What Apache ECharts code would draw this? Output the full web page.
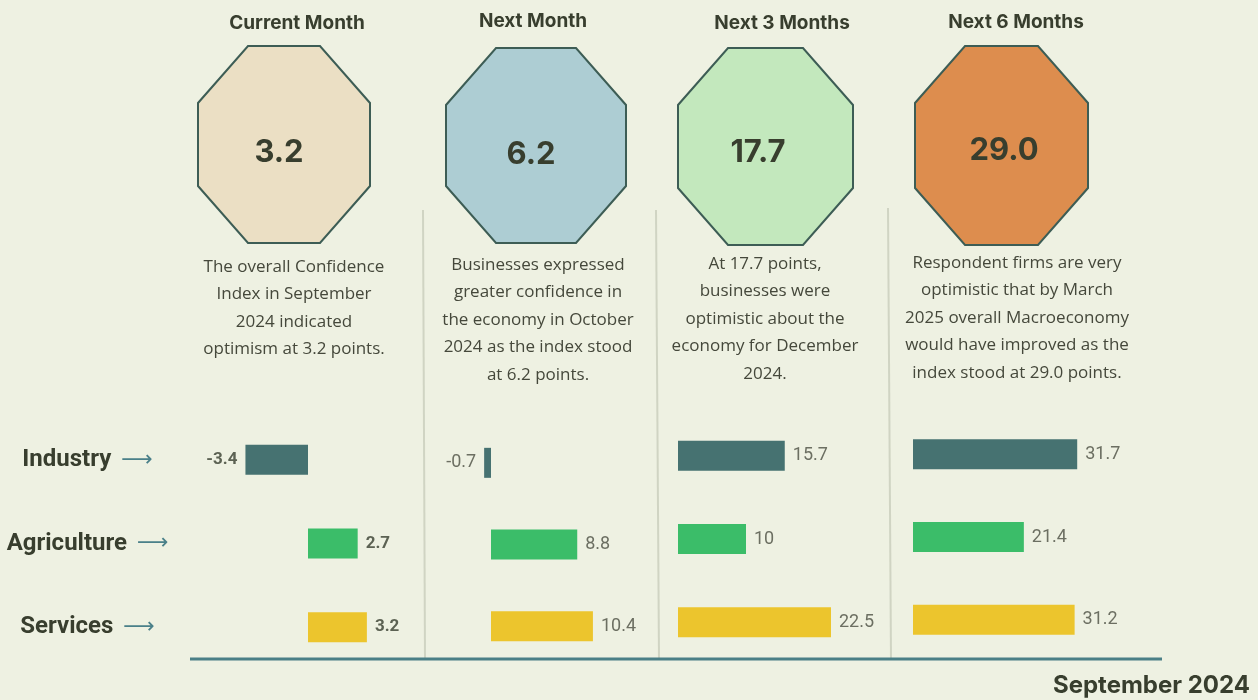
<!DOCTYPE html>
<html>
<head>
<meta charset="utf-8">
<script src="https://cdn.jsdelivr.net/npm/echarts@6/dist/echarts.min.js"></script>
<style>
  html, body { margin: 0; padding: 0; background: #eef1e2; }
  #chart { width: 1258px; height: 700px; }
</style>
</head>
<body>
<div id="chart"></div>
<script>
  // 数据
  const sectors = ['Industry', 'Agriculture', 'Services'];
  const periods = ['Current Month', 'Next Month', 'Next 3 Months', 'Next 6 Months'];
  const overallIndex = ['3.2', '6.2', '17.7', '29.0'];
  const notes = [
    'The overall Confidence\nIndex in September\n2024 indicated\noptimism at 3.2 points.',
    'Businesses expressed\ngreater confidence in\nthe economy in October\n2024 as the index stood\nat 6.2 points.',
    'At 17.7 points,\nbusinesses were\noptimistic about the\neconomy for December\n2024.',
    'Respondent firms are very\noptimistic that by March\n2025 overall Macroeconomy\nwould have improved as the\nindex stood at 29.0 points.'
  ];
  const currentMonth = [-3.4, 2.7, 3.2];
  const nextMonth = [-0.7, 8.8, 10.4];
  const next3Months = [15.7, 10, 22.5];
  const next6Months = [31.7, 21.4, 31.2];
  const footer = 'September 2024';

  const sectorColors = ['#467271', '#3bbd69', '#ecc52d'];
  const octFill = ['#ebdfc4', '#adcdd3', '#c3e8bd', '#dd8d4e'];

  // 布局
  const panels = [
    { data: currentMonth, min: -6, max: 6, left: 197.6, width: 220.8, top: 418, height: 251, bold: true },
    { data: nextMonth, min: -4, max: 16, left: 451.8, width: 196, top: 422, height: 245 },
    { data: next3Months, min: 0, max: 30, left: 678, width: 204, top: 414, height: 250 },
    { data: next6Months, min: 0, max: 50, left: 913, width: 259, top: 413, height: 248 }
  ];
  const octBoxes = [
    { x0: 198, x1: 370, y0: 46, y1: 243, cx: 50, cy: 57, tx: 279, ty: 153 },
    { x0: 446, x1: 626, y0: 48, y1: 243, cx: 50, cy: 57, tx: 531, ty: 155 },
    { x0: 678, x1: 853, y0: 48, y1: 245, cx: 50, cy: 57, tx: 758, ty: 153 },
    { x0: 915, x1: 1088, y0: 46, y1: 245, cx: 50, cy: 57, tx: 1004, ty: 151 }
  ];
  const headPos = [[297, 23], [533, 21], [782, 23], [1016, 22]];
  const notePos = [[294, 253], [538, 251], [765, 250], [1017, 249]];

  const chart = echarts.init(document.getElementById('chart'));

  const graphic = [];
  octBoxes.forEach((b, i) => {
    graphic.push({
      type: 'polygon',
      shape: {
        points: [
          [b.x0 + b.cx, b.y0], [b.x1 - b.cx, b.y0], [b.x1, b.y0 + b.cy], [b.x1, b.y1 - b.cy],
          [b.x1 - b.cx, b.y1], [b.x0 + b.cx, b.y1], [b.x0, b.y1 - b.cy], [b.x0, b.y0 + b.cy]
        ]
      },
      style: { fill: octFill[i], stroke: '#3d5d55', lineWidth: 2 }
    });
    graphic.push({
      type: 'text', x: b.tx, y: b.ty,
      style: {
        text: overallIndex[i], fill: '#383e2e', font: '700 31px Inter',
        align: 'center', verticalAlign: 'middle'
      }
    });
    graphic.push({
      type: 'text', x: headPos[i][0], y: headPos[i][1],
      style: {
        text: periods[i], fill: '#383e2e', font: '700 19px Inter',
        align: 'center', verticalAlign: 'middle'
      }
    });
    graphic.push({
      type: 'text', x: notePos[i][0], y: notePos[i][1],
      style: {
        text: notes[i], fill: '#45483b', font: '400 17px "Open Sans"',
        lineHeight: 27.5, align: 'center', verticalAlign: 'top'
      }
    });
  });
  // 分隔线
  [[423, 210, 425, 660], [656, 210, 659, 660], [888, 208, 891, 660]].forEach(l => {
    graphic.push({
      type: 'line', shape: { x1: l[0], y1: l[1], x2: l[2], y2: l[3] },
      style: { stroke: '#d0d4c3', lineWidth: 2 }
    });
  });
  graphic.push({
    type: 'line', shape: { x1: 190, y1: 659, x2: 1162, y2: 659 },
    style: { stroke: '#4a7f86', lineWidth: 3 }
  });
  graphic.push({
    type: 'text', right: 8, top: 674,
    style: { text: footer, fill: '#383e2e', font: '700 24px Inter' }
  });

  const option = {
    backgroundColor: '#eef1e2',
    animation: false,
    graphic: graphic,
    grid: panels.map(p => ({ left: p.left, top: p.top, width: p.width, height: p.height })),
    xAxis: panels.map((p, i) => ({
      type: 'value', gridIndex: i, min: p.min, max: p.max, show: false
    })),
    yAxis: panels.map((p, i) => ({
      type: 'category', gridIndex: i, data: sectors, inverse: true,
      axisLine: { show: false }, axisTick: { show: false },
      axisLabel: i === 0 ? {
        show: true, align: 'center', margin: 110,
        formatter: v => '{n|' + v + '}   {a|⟶}',
        rich: {
          n: { fontFamily: 'Roboto', fontWeight: 700, fontSize: 24, color: '#383e2e' },
          a: { fontFamily: 'DejaVu Sans', fontSize: 22, color: '#4a8089' }
        }
      } : { show: false }
    })),
    series: panels.map((p, i) => ({
      type: 'bar', xAxisIndex: i, yAxisIndex: i, barWidth: 30,
      data: p.data.map((v, k) => ({
        value: v,
        itemStyle: { color: sectorColors[k] },
        label: { position: v < 0 ? 'left' : 'right' }
      })),
      label: {
        show: true, distance: 8,
        fontFamily: 'Roboto',
        fontWeight: p.bold ? 700 : 400,
        fontSize: p.bold ? 17 : 18,
        color: p.bold ? '#5c6253' : '#6c6f62'
      }
    }))
  };

  chart.setOption(option);
  window.onresize = function () {
    chart.resize()
  }
</script>
</body>
</html>
